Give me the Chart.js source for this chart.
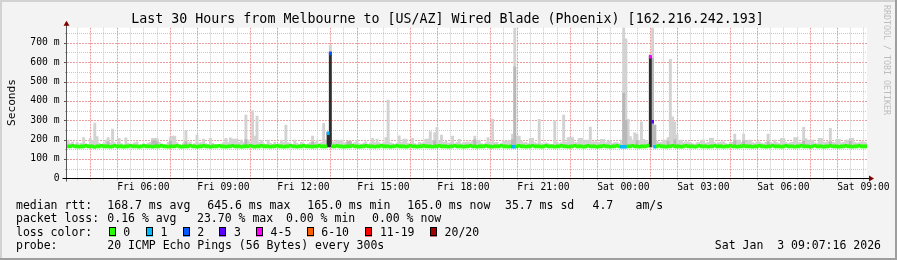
<!DOCTYPE html>
<html><head><meta charset="utf-8">
<script src="https://cdn.jsdelivr.net/npm/chart.js@4.4.1/dist/chart.umd.min.js"></script>
<style>html,body{margin:0;padding:0;background:#f3f3f3;}canvas{display:block;}</style>
</head><body>
<canvas id="c" width="897" height="260"></canvas>
<script>
// ---------------- data ----------------
const chartTitle = 'Last 30 Hours from Melbourne to [US/AZ] Wired Blade (Phoenix) [162.216.242.193]';
const rangeStart = 'Fri 03:08';
const rangeHours = 30;
const stepMinutes = 5;
const xTickLabels = ['Fri 06:00','Fri 09:00','Fri 12:00','Fri 15:00','Fri 18:00','Fri 21:00','Sat 00:00','Sat 03:00','Sat 06:00','Sat 09:00'];
const yTickValues = [0,100,200,300,400,500,600,700];
const yTickLabels = ['0','100 m','200 m','300 m','400 m','500 m','600 m','700 m'];
const yMaxMs = 778;

// median rtt (ms) per 5-minute step
const median = [
165,165,168,165,165,163,165,165,168,165,165,165,162,165,165,168,165,165,165,163,
165,168,165,165,165,163,165,165,168,165,165,165,163,165,168,165,165,165,163,165,
165,165,168,165,165,163,165,165,165,168,165,163,165,165,165,168,165,165,163,165,
165,168,165,165,163,165,165,165,168,165,165,163,165,165,168,165,165,165,163,165,
165,165,168,165,163,165,165,168,165,165,165,163,165,165,168,165,165,163,165,165,
168,165,165,163,165,165,168,165,165,165,163,165,165,168,165,165,165,233,645,165,
165,168,165,165,163,165,165,165,168,165,165,163,165,165,168,165,165,165,163,165,
165,168,165,165,165,163,165,165,168,165,165,165,163,165,168,165,165,163,165,165,
168,165,165,165,163,165,165,168,165,165,165,163,165,165,168,165,165,165,163,165,
165,168,165,165,163,165,165,165,168,165,165,163,165,165,165,168,165,165,163,165,
163,163,165,168,165,165,163,165,165,168,165,165,165,163,165,168,165,165,165,163,
165,165,168,165,165,163,165,165,168,165,165,165,163,165,168,165,165,165,163,165,
165,168,165,165,163,165,165,168,165,163,163,163,165,165,168,165,165,163,165,165,
165,168,628,292,163,165,168,165,165,163,165,165,168,165,165,165,163,165,168,165,
165,165,163,165,168,165,165,165,163,165,165,168,165,165,165,163,165,165,168,165,
165,163,165,165,168,165,165,165,163,165,165,168,165,165,163,165,165,168,165,165,
165,163,165,168,165,165,165,163,165,165,168,165,165,165,163,165,168,165,165,165,
163,165,165,168,165,165,165,163,165,165,168,165,165,163,165,165,168,165,165,165];

// lost pings (of 20) per step
const loss = [
0,0,0,0,0,0,0,0,0,0,0,0,0,0,0,0,0,0,0,0,
0,0,0,0,0,0,0,0,0,0,0,0,0,0,0,0,0,0,0,0,
0,0,0,0,0,0,0,0,0,0,0,0,0,0,0,0,0,0,0,0,
0,0,0,0,0,0,0,0,0,0,0,0,0,0,0,0,0,0,0,0,
0,0,0,0,0,0,0,0,0,0,0,0,0,0,0,0,0,0,0,0,
0,0,0,0,0,0,0,0,0,0,0,0,0,0,0,0,0,1,2,0,
0,0,0,0,0,0,0,0,0,0,0,0,0,0,0,0,0,0,0,0,
0,0,0,0,0,0,0,0,0,0,0,0,0,0,0,0,0,0,0,0,
0,0,0,0,0,0,0,0,0,0,0,0,0,0,0,0,0,0,0,0,
0,0,0,0,0,0,0,0,0,0,0,0,0,0,0,0,0,0,0,0,
1,1,0,0,0,0,0,0,0,0,0,0,0,0,0,0,0,0,0,0,
0,0,0,0,0,0,0,0,0,0,0,0,0,0,0,0,0,0,0,0,
0,0,0,0,0,0,0,0,0,1,1,1,0,0,0,0,0,0,0,0,
0,0,4,3,1,0,0,0,0,0,0,0,0,0,0,0,0,0,0,0,
0,0,0,0,0,0,0,0,0,0,0,0,0,0,0,0,0,0,0,0,
0,0,0,0,0,0,0,0,0,0,0,0,0,0,0,0,0,0,0,0,
0,0,0,0,0,0,0,0,0,0,0,0,0,0,0,0,0,0,0,0,
0,0,0,0,0,0,0,0,0,0,0,0,0,0,0,0,0,0,0,0];

// lowest ping (ms) per step
const pingMin = [
162,162,162,162,162,162,162,162,162,162,162,162,162,162,162,162,162,162,162,162,
162,162,162,162,162,162,162,162,162,162,162,162,162,162,162,162,162,162,162,162,
162,162,162,162,162,162,162,162,162,162,162,162,162,162,162,162,162,162,162,162,
162,162,162,162,162,162,162,162,162,162,162,162,162,162,162,162,162,162,162,162,
162,162,162,162,162,162,162,162,162,162,162,162,162,162,162,162,162,162,162,162,
162,162,162,162,162,162,162,162,162,162,162,162,162,162,162,162,162,162,162,162,
162,162,162,162,162,162,162,162,162,162,162,162,162,162,162,162,162,162,162,162,
162,162,162,162,162,162,162,162,162,162,162,162,162,162,162,162,162,162,162,162,
162,162,162,162,162,162,162,162,162,162,162,162,162,162,162,162,162,162,162,162,
162,162,162,162,162,162,162,162,162,162,162,162,162,162,162,162,162,162,162,162,
162,162,162,162,162,162,162,162,162,162,162,162,162,162,162,162,162,162,162,162,
162,162,162,162,162,162,162,162,162,162,162,162,162,162,162,162,162,162,162,162,
162,162,162,162,162,162,162,162,162,162,162,162,162,162,162,162,162,162,162,162,
162,162,162,162,162,162,162,162,162,162,162,162,162,162,162,162,162,162,162,162,
162,162,162,162,162,162,162,162,162,162,162,162,162,162,162,162,162,162,162,162,
162,162,162,162,162,162,162,162,162,162,162,162,162,162,162,162,162,162,162,162,
162,162,162,162,162,162,162,162,162,162,162,162,162,162,162,162,162,162,162,162,
162,162,162,162,162,162,162,162,162,162,162,162,162,162,162,162,162,162,162,162];

// highest ping (ms) per step (light smoke top)
const pingMax = [
198,180,189,176,186,178,182,211,180,176,206,195,285,215,182,176,180,198,211,184,
254,184,176,206,180,176,209,182,172,178,184,189,176,172,180,176,182,186,206,206,
206,186,180,176,172,186,210,218,218,184,176,172,182,248,184,189,176,180,223,182,
184,203,180,176,206,182,175,175,172,178,184,206,186,209,203,203,203,186,198,184,
327,198,186,349,218,322,186,198,180,176,198,182,176,186,176,180,198,186,275,184,
180,176,198,182,176,186,180,172,178,184,218,186,198,180,184,284,198,240,688,189,
189,198,196,198,182,186,192,192,180,184,198,180,176,182,189,176,182,206,184,203,
184,178,184,211,404,184,180,176,182,220,186,203,203,182,178,206,180,176,186,182,
184,203,203,241,196,236,263,192,223,186,192,182,184,218,180,186,201,180,184,186,
189,184,192,218,196,198,180,176,184,210,186,306,184,186,176,182,192,192,192,196,
229,778,218,218,192,184,186,180,206,206,184,180,304,180,176,184,180,175,175,297,
186,180,184,327,186,211,211,211,186,184,206,206,192,198,198,265,189,189,189,186,
201,201,184,192,192,180,186,186,180,198,778,720,304,215,198,235,229,196,292,201,
196,186,640,778,275,192,184,186,198,198,210,615,318,292,223,192,198,184,189,189,
184,180,176,184,186,198,198,182,186,206,206,184,180,184,189,189,180,176,184,186,
229,198,198,186,229,192,198,198,184,180,189,189,182,178,186,229,186,182,198,184,
180,206,206,186,180,184,186,210,210,186,184,263,205,198,198,198,184,180,206,206,
184,186,190,258,186,184,201,201,182,186,198,198,206,206,186,182,184,189,189,184];

// top of the denser (mid grey) part of the smoke, 0 = none
const midTop = [
0,0,0,0,0,0,0,0,0,0,0,0,0,0,0,0,0,0,189,0,
0,0,0,0,0,0,0,0,0,0,0,0,0,0,0,0,0,0,194,196,
190,0,0,0,0,0,192,0,0,0,0,0,0,190,0,0,0,0,0,0,
0,0,0,0,0,0,0,0,0,0,0,0,0,0,0,0,0,0,0,0,
200,0,0,0,0,0,0,0,0,0,0,0,0,0,0,0,0,0,0,0,
0,0,0,0,0,0,0,0,0,0,188,0,0,0,0,0,0,0,0,0,
0,0,0,0,0,0,192,190,0,0,0,0,0,0,0,0,0,0,0,0,
0,0,0,0,0,0,0,0,0,0,0,0,0,0,0,0,0,0,0,0,
0,0,0,0,0,195,0,0,0,0,0,0,0,0,0,0,0,0,0,0,
0,0,0,200,0,0,0,0,0,0,0,0,0,0,0,0,0,0,0,0,
200,576,0,0,0,0,0,0,0,0,0,0,0,0,0,0,0,0,0,0,
0,0,0,0,0,0,0,0,0,0,0,0,0,0,0,0,0,0,0,0,
0,0,0,0,0,0,0,0,0,0,440,300,0,0,0,0,195,0,0,0,
0,0,0,620,275,0,0,0,0,0,192,0,0,200,0,0,0,0,0,0,
0,0,0,0,0,0,0,0,0,0,0,0,0,0,0,0,0,0,0,0,
195,0,0,0,192,0,0,0,0,0,0,0,0,0,0,190,0,0,0,0,
0,0,0,0,0,0,0,0,0,0,0,192,0,0,0,0,0,0,0,0,
0,0,0,190,0,0,0,0,0,0,0,0,192,0,0,0,0,0,0,0];

// top of the darkest smoke, 0 = none
const darkTop = [
0,0,0,0,0,0,0,0,0,0,0,0,0,0,0,0,0,0,0,0,
0,0,0,0,0,0,0,0,0,0,0,0,0,0,0,0,0,0,0,0,
0,0,0,0,0,0,0,0,0,0,0,0,0,0,0,0,0,0,0,0,
0,0,0,0,0,0,0,0,0,0,0,0,0,0,0,0,0,0,0,0,
0,0,0,0,0,0,0,0,0,0,0,0,0,0,0,0,0,0,0,0,
0,0,0,0,0,0,0,0,0,0,0,0,0,0,0,0,0,235,652,0,
0,0,0,0,0,0,0,0,0,0,0,0,0,0,0,0,0,0,0,0,
0,0,0,0,0,0,0,0,0,0,0,0,0,0,0,0,0,0,0,0,
0,0,0,0,0,0,0,0,0,0,0,0,0,0,0,0,0,0,0,0,
0,0,0,0,0,0,0,0,0,0,0,0,0,0,0,0,0,0,0,0,
0,0,0,0,0,0,0,0,0,0,0,0,0,0,0,0,0,0,0,0,
0,0,0,0,0,0,0,0,0,0,0,0,0,0,0,0,0,0,0,0,
0,0,0,0,0,0,0,0,0,0,0,0,0,0,0,0,0,0,0,0,
0,0,630,0,0,0,0,0,0,0,0,0,0,0,0,0,0,0,0,0,
0,0,0,0,0,0,0,0,0,0,0,0,0,0,0,0,0,0,0,0,
0,0,0,0,0,0,0,0,0,0,0,0,0,0,0,0,0,0,0,0,
0,0,0,0,0,0,0,0,0,0,0,0,0,0,0,0,0,0,0,0,
0,0,0,0,0,0,0,0,0,0,0,0,0,0,0,0,0,0,0,0];

const lossBinLabels = ['0','1','2','3','4-5','6-10','11-19','20/20'];
const lossBinMax    = [0,1,2,3,5,10,19,20];
const lossBinColors = ['#26ff00','#00b8ff','#0059ff','#5e00ff','#ff00ff','#ff5e00','#ff0000','#a10000'];

const statRows = [
  ['median rtt:','168.7 ms avg','645.6 ms max','165.0 ms min','165.0 ms now','35.7 ms sd','4.7','am/s'],
  ['packet loss:','0.16 % avg','23.70 % max','0.00 % min','0.00 % now']
];
const probeLabel = 'probe:';
const probeText = '20 ICMP Echo Pings (56 Bytes) every 300s';
const stampText = 'Sat Jan  3 09:07:16 2026';
const yAxisTitle = 'Seconds';
const watermark = 'RRDTOOL / TOBI OETIKER';

// ---------------- helpers ----------------
function toMinutes(label){
  const [d,t] = label.split(' ');
  const [h,m] = t.split(':').map(Number);
  return (d === 'Sat' ? 1440 : 0) + h*60 + m;
}
const startMin = toMinutes(rangeStart);
const rangeMin = rangeHours * 60;
function lossColor(n){
  for (let k = 0; k < lossBinMax.length; k++) if (n <= lossBinMax[k]) return lossBinColors[k];
  return lossBinColors[lossBinColors.length-1];
}
const xs = median.map((_, i) => (i + 0.5) * stepMinutes);

const MONO = '"DejaVu Sans Mono", "Liberation Mono", monospace';
const RED = '#ec9e9e', GREY = '#c8c8c8';
const LIGHT = '#d2d2d2', MIDC = '#b8b8b8', DARKC = '#2e2e2e';
const LINE_HALF = 7.6; // half thickness of the median line, ms

function band(top, color, order){
  const data = [];
  top.forEach((t, i) => { if (t > 0) data.push({x: xs[i], y: [pingMin[i], t]}); });
  return {data, backgroundColor: color, order, grouped: false, barPercentage: 1, categoryPercentage: 1, borderWidth: 0};
}

const rrdPlugin = {
  id: 'rrd',
  beforeDraw(chart){
    const c = chart.ctx, a = chart.chartArea;
    c.save();
    c.fillStyle = '#f3f3f3'; c.fillRect(0, 0, chart.width, chart.height);
    c.fillStyle = '#ffffff'; c.fillRect(a.left, a.top, a.right - a.left, a.bottom - a.top);
    c.restore();
  },
  beforeDatasetsDraw(chart){
    const c = chart.ctx, a = chart.chartArea, xsS = chart.scales.x, ysS = chart.scales.y;
    c.save();
    c.lineWidth = 1;
    // horizontal grid
    for (let v = 50; v < yMaxMs; v += 50) {
      const y = Math.round(ysS.getPixelForValue(v)) + 0.5;
      const major = v % 100 === 0;
      c.strokeStyle = major ? RED : GREY;
      c.setLineDash(major ? [2,1] : [1,1]);
      c.beginPath(); c.moveTo(a.left, y); c.lineTo(a.right, y); c.stroke();
      c.setLineDash([]);
      c.strokeStyle = major ? '#555' : '#aaa';
      c.beginPath(); c.moveTo(a.left - (major ? 3 : 2), y); c.lineTo(a.left, y); c.stroke();
    }
    // vertical grid
    for (let t = Math.ceil(startMin/30)*30; t <= startMin + rangeMin; t += 30) {
      const x = Math.round(xsS.getPixelForValue(t - startMin)) + 0.5;
      if (x > a.right) break;
      const red = (t % 60 === 0) && (t % 180 !== 0);
      c.strokeStyle = red ? RED : GREY;
      c.setLineDash(red ? [2,1] : [1,1]);
      c.beginPath(); c.moveTo(x, a.top); c.lineTo(x, a.bottom); c.stroke();
      c.setLineDash([]);
      c.beginPath(); c.moveTo(x, a.bottom); c.lineTo(x, a.bottom + 2); c.stroke();
    }
    c.restore();
  },
  afterDraw(chart){
    const c = chart.ctx, a = chart.chartArea;
    c.save();
    // axes
    const yb = Math.round(a.bottom) + 0.5, xl = Math.round(a.left) - 0.5;
    c.lineWidth = 1;
    c.strokeStyle = '#555';
    c.beginPath(); c.moveTo(xl, yb + 3); c.lineTo(xl, a.top - 4); c.stroke();
    c.strokeStyle = '#000';
    c.beginPath(); c.moveTo(xl - 4, yb); c.lineTo(a.right + 3, yb); c.stroke();
    c.fillStyle = '#7f0000';
    c.beginPath(); c.moveTo(xl - 3, a.top - 2); c.lineTo(xl + 3, a.top - 2); c.lineTo(xl, a.top - 7); c.closePath(); c.fill();
    c.beginPath(); c.moveTo(a.right + 2, yb - 3); c.lineTo(a.right + 2, yb + 3); c.lineTo(a.right + 7, yb); c.closePath(); c.fill();

    // title
    c.fillStyle = '#000';
    c.font = '13.3px ' + MONO;
    c.textAlign = 'center'; c.textBaseline = 'alphabetic';
    c.fillText(chartTitle, 447.5, 22.5);

    // y title
    c.save();
    c.translate(15, 102.5); c.rotate(-Math.PI/2);
    c.font = '11.2px ' + MONO; c.textAlign = 'center'; c.textBaseline = 'alphabetic';
    c.fillText(yAxisTitle, 0, 0);
    c.restore();

    // legend
    c.font = '11.5px ' + MONO; c.textAlign = 'left'; c.textBaseline = 'alphabetic';
    const rowY = [208.8, 222.2, 235.6, 249.2];
    const row1X = [16, 107.3, 207.3, 307.3, 407.3, 505, 592.5, 635.5];
    const row2X = [16, 107.3, 197, 286, 372];
    statRows[0].forEach((s, k) => c.fillText(s, row1X[k], rowY[0]));
    statRows[1].forEach((s, k) => c.fillText(s, row2X[k], rowY[1]));
    c.fillText('loss color:', 16, rowY[2]);
    const boxX = [108.7, 146, 182.7, 219.3, 256, 306.7, 365.3, 430];
    lossBinLabels.forEach((lab, k) => {
      const bx = Math.round(boxX[k]);
      c.fillStyle = lossBinColors[k];
      c.fillRect(bx, 227.5, 7, 9);
      c.strokeStyle = '#000'; c.lineWidth = 1;
      c.strokeRect(bx + 0.5, 227.5, 6, 8);
      c.fillStyle = '#000';
      c.fillText(lab, boxX[k] + 14.6, rowY[2]);
    });
    c.fillText(probeLabel, 16, rowY[3]);
    c.fillText(probeText, 107.3, rowY[3]);
    c.textAlign = 'right';
    c.fillText(stampText, 881, rowY[3]);

    // watermark
    c.save();
    c.translate(884, 5); c.rotate(Math.PI/2);
    c.font = '8.3px ' + MONO; c.fillStyle = '#bdbdbd'; c.textAlign = 'left'; c.textBaseline = 'alphabetic';
    c.fillText(watermark, 0, 0);
    c.restore();

    // frame
    c.fillStyle = '#d2d2d2';
    c.fillRect(0, 0, chart.width, 2); c.fillRect(0, 0, 2, chart.height);
    c.fillStyle = '#9e9e9e';
    c.fillRect(0, chart.height - 2, chart.width, 2); c.fillRect(chart.width - 2, 0, 2, chart.height);
    c.restore();
  }
};

new Chart(document.getElementById('c'), {
  type: 'bar',
  data: {
    datasets: [
      {data: xs.map((x, i) => ({x, y: [median[i] - LINE_HALF, median[i] + LINE_HALF]})),
       backgroundColor: ctx => lossColor(loss[ctx.dataIndex]),
       order: 0, grouped: false, barPercentage: 1, categoryPercentage: 1, borderWidth: 0},
      band(darkTop, DARKC, 1),
      band(midTop, MIDC, 2),
      band(pingMax, LIGHT, 3)
    ]
  },
  options: {
    responsive: false, animation: false, devicePixelRatio: 1,
    layout: {padding: {top: 27.7, right: 30, left: 0, bottom: 0}},
    plugins: {legend: {display: false}, tooltip: {enabled: false}, title: {display: false}},
    scales: {
      x: {
        type: 'linear', min: 0, max: rangeMin, offset: false,
        grid: {display: false, drawTicks: false}, border: {display: false},
        afterBuildTicks: s => { s.ticks = xTickLabels.map(l => ({value: toMinutes(l) - startMin})); },
        ticks: {autoSkip: false, maxRotation: 0, minRotation: 0, padding: 3, color: '#000',
                font: {family: MONO, size: 9.7}, callback: (v, i) => xTickLabels[i]},
        afterFit: s => { s.height = 260 - 178.3; }
      },
      y: {
        min: 0, max: yMaxMs,
        grid: {display: false, drawTicks: false}, border: {display: false},
        afterBuildTicks: s => { s.ticks = yTickValues.map(v => ({value: v})); },
        ticks: {padding: 7.5, color: '#000', font: {family: MONO, size: 9.7}, callback: (v, i) => yTickLabels[i]},
        afterFit: s => { s.width = 67; }
      }
    }
  },
  plugins: [rrdPlugin]
});
</script>
</body></html>
